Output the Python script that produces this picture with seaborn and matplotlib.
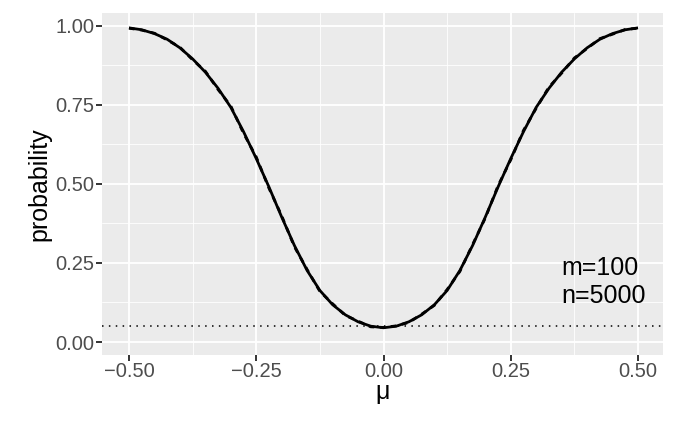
import numpy as np
import pandas as pd
import matplotlib
matplotlib.use("Agg")
import matplotlib.pyplot as plt
import seaborn as sns

# ── data ─────────────────────────────────────────────────────
mu = [-0.500, -0.475, -0.450, -0.425, -0.400, -0.375, -0.350, -0.325,
      -0.300, -0.275, -0.250, -0.225, -0.200, -0.175, -0.150, -0.125,
      -0.100, -0.075, -0.050, -0.025, 0.000, 0.025, 0.050, 0.075,
      0.100, 0.125, 0.150, 0.175, 0.200, 0.225, 0.250, 0.275,
      0.300, 0.325, 0.350, 0.375, 0.400, 0.425, 0.450, 0.475, 0.500]

power_theory = [0.993, 0.987, 0.975, 0.957, 0.930, 0.895, 0.853, 0.802,
                0.742, 0.665, 0.580, 0.490, 0.395, 0.305, 0.226, 0.163,
                0.118, 0.086, 0.064, 0.050, 0.045, 0.050, 0.064, 0.086,
                0.118, 0.163, 0.226, 0.305, 0.395, 0.490, 0.580, 0.665,
                0.742, 0.802, 0.853, 0.895, 0.930, 0.957, 0.975, 0.987, 0.993]

power_sim = [0.992, 0.986, 0.976, 0.955, 0.932, 0.892, 0.856, 0.798,
             0.746, 0.660, 0.585, 0.486, 0.399, 0.301, 0.229, 0.160,
             0.121, 0.084, 0.066, 0.048, 0.046, 0.051, 0.062, 0.088,
             0.116, 0.166, 0.223, 0.308, 0.392, 0.494, 0.576, 0.669,
             0.739, 0.806, 0.850, 0.898, 0.928, 0.959, 0.973, 0.988, 0.992]

alpha = 0.05
label_text = "m=100\nn=5000"

x_major = [-0.50, -0.25, 0.00, 0.25, 0.50]
x_minor = [-0.375, -0.125, 0.125, 0.375]
y_major = [0.00, 0.25, 0.50, 0.75, 1.00]
y_minor = [0.125, 0.375, 0.625, 0.875]

# ── style ────────────────────────────────────────────────────
sns.set_theme(style="darkgrid", rc={
    "axes.facecolor": "#EBEBEB",
    "grid.color": "white",
    "axes.edgecolor": "#EBEBEB",
    "xtick.bottom": True,
    "ytick.left": True,
    "xtick.direction": "out",
    "ytick.direction": "out",
})
plt.rcParams["font.family"] = ["Liberation Sans", "DejaVu Sans"]

df = pd.DataFrame({
    "mu": mu * 2,
    "probability": power_theory + power_sim,
    "kind": ["theory"] * len(mu) + ["simulation"] * len(mu),
})

fig = plt.figure(figsize=(6.77, 4.23), dpi=100)
ax = fig.add_axes([0.1514, 0.1608, 0.9793 - 0.1514, 0.970 - 0.1608])

ax.axhline(alpha, color="black", linewidth=1.1, linestyle=(0, (1, 3.5)), zorder=2)
sns.lineplot(data=df[df.kind == "theory"], x="mu", y="probability",
             color="black", linewidth=2.0, ax=ax, zorder=3,
             solid_joinstyle="round", solid_capstyle="butt")
sns.lineplot(data=df[df.kind == "simulation"], x="mu", y="probability",
             color="black", linewidth=2.0, linestyle=(0, (2, 2)), ax=ax, zorder=4)

ax.text(0.35, 0.19, label_text, fontsize=18, ha="left", va="center",
        linespacing=1.25, color="black")

ax.set_xlim(-0.552, 0.549)
ax.set_ylim(-0.041, 1.041)
ax.set_xticks(x_major)
ax.set_xticks(x_minor, minor=True)
ax.set_yticks(y_major)
ax.set_yticks(y_minor, minor=True)
ax.set_xticklabels(["\u22120.50", "\u22120.25", "0.00", "0.25", "0.50"])
ax.set_yticklabels(["0.00", "0.25", "0.50", "0.75", "1.00"])
ax.grid(which="major", color="white", linewidth=1.3)
ax.grid(which="minor", color="white", linewidth=0.6)
ax.xaxis.set_tick_params(which="major", bottom=True, length=4, width=1.4,
                         color="#333333", labelsize=14.5,
                         labelcolor="#4D4D4D", pad=1)
ax.yaxis.set_tick_params(which="major", left=True, length=4, width=1.4,
                         color="#333333", labelsize=14.5,
                         labelcolor="#4D4D4D", pad=2)
ax.tick_params(which="minor", bottom=False, left=False, length=0)
for s in ax.spines.values():
    s.set_visible(False)

ax.set_xlabel("\u03bc", fontsize=18, color="black", labelpad=-1)
ax.set_ylabel("probability", fontsize=18, color="black", labelpad=3)

plt.savefig("out.png", dpi=100)
